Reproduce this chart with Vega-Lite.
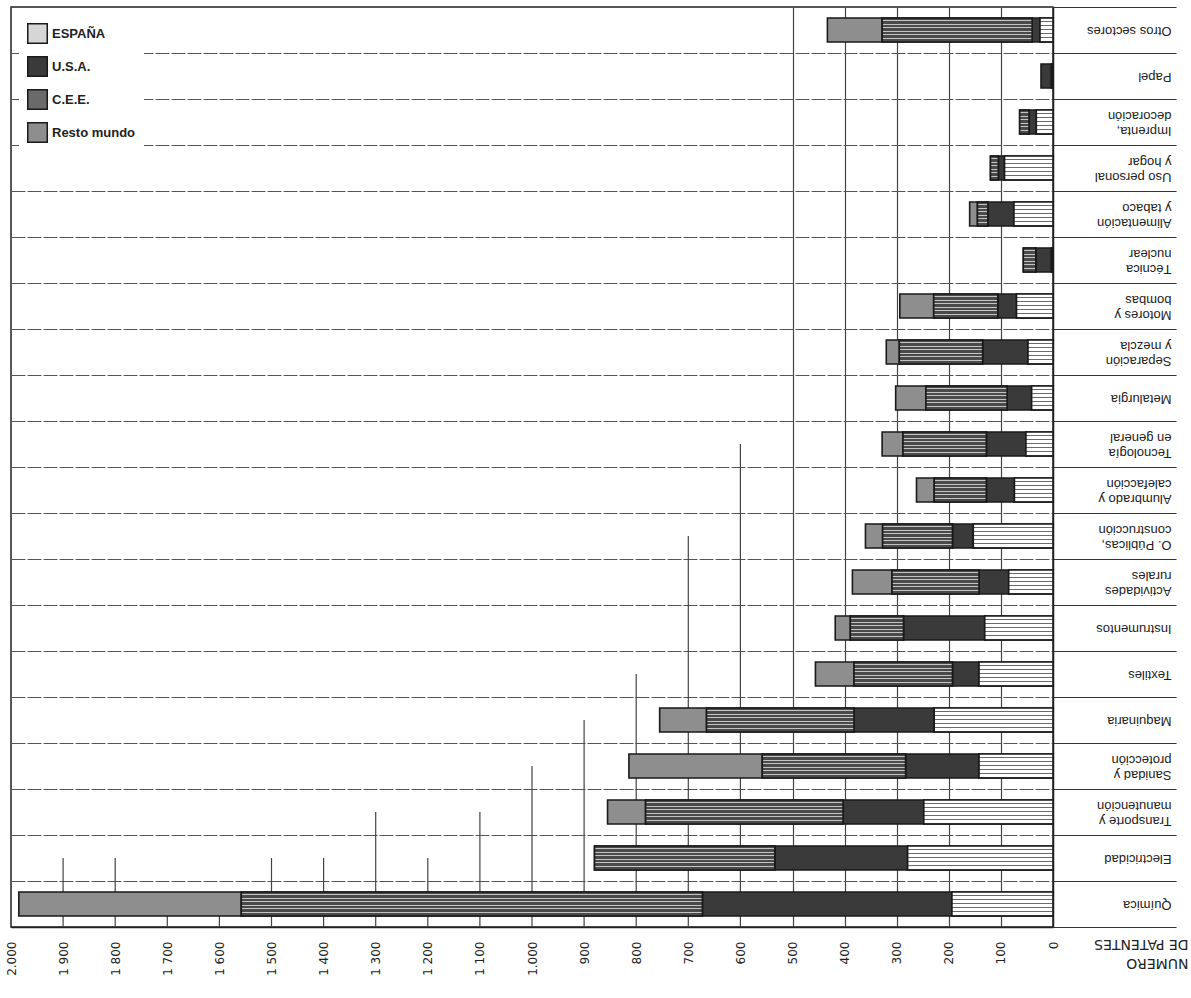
{
  "$schema": "https://vega.github.io/schema/vega-lite/v6.json",
  "width": 1042,
  "height": 920,
  "autosize": {"type": "none"},
  "padding": {"left": 11, "top": 7, "right": 138, "bottom": 71},
  "background": "white",
  "config": {
    "font": "Liberation Sans",
    "view": {"stroke": "#222", "strokeWidth": 1.5},
    "axis": {"labelColor": "#222", "titleColor": "#222", "domainColor": "#222"}
  },
  "datasets": {
    "barras": [
      {"sector": "Química", "origen": "ESPAÑA", "k": 1, "valor": 194},
      {"sector": "Química", "origen": "U.S.A.", "k": 2, "valor": 479},
      {"sector": "Química", "origen": "C.E.E.", "k": 3, "valor": 885},
      {"sector": "Química", "origen": "Resto mundo", "k": 4, "valor": 427},
      {"sector": "Electricidad", "origen": "ESPAÑA", "k": 1, "valor": 279},
      {"sector": "Electricidad", "origen": "U.S.A.", "k": 2, "valor": 255},
      {"sector": "Electricidad", "origen": "C.E.E.", "k": 3, "valor": 346},
      {"sector": "Transporte y|manutención", "origen": "ESPAÑA", "k": 1, "valor": 248},
      {"sector": "Transporte y|manutención", "origen": "U.S.A.", "k": 2, "valor": 155},
      {"sector": "Transporte y|manutención", "origen": "C.E.E.", "k": 3, "valor": 379},
      {"sector": "Transporte y|manutención", "origen": "Resto mundo", "k": 4, "valor": 73},
      {"sector": "Sanidad y|protección", "origen": "ESPAÑA", "k": 1, "valor": 142},
      {"sector": "Sanidad y|protección", "origen": "U.S.A.", "k": 2, "valor": 141},
      {"sector": "Sanidad y|protección", "origen": "C.E.E.", "k": 3, "valor": 275},
      {"sector": "Sanidad y|protección", "origen": "Resto mundo", "k": 4, "valor": 256},
      {"sector": "Maquinaria", "origen": "ESPAÑA", "k": 1, "valor": 228},
      {"sector": "Maquinaria", "origen": "U.S.A.", "k": 2, "valor": 154},
      {"sector": "Maquinaria", "origen": "C.E.E.", "k": 3, "valor": 283},
      {"sector": "Maquinaria", "origen": "Resto mundo", "k": 4, "valor": 90},
      {"sector": "Textiles", "origen": "ESPAÑA", "k": 1, "valor": 142},
      {"sector": "Textiles", "origen": "U.S.A.", "k": 2, "valor": 51},
      {"sector": "Textiles", "origen": "C.E.E.", "k": 3, "valor": 189},
      {"sector": "Textiles", "origen": "Resto mundo", "k": 4, "valor": 74},
      {"sector": "Instrumentos", "origen": "ESPAÑA", "k": 1, "valor": 131},
      {"sector": "Instrumentos", "origen": "U.S.A.", "k": 2, "valor": 156},
      {"sector": "Instrumentos", "origen": "C.E.E.", "k": 3, "valor": 102},
      {"sector": "Instrumentos", "origen": "Resto mundo", "k": 4, "valor": 29},
      {"sector": "Actividades|rurales", "origen": "ESPAÑA", "k": 1, "valor": 85},
      {"sector": "Actividades|rurales", "origen": "U.S.A.", "k": 2, "valor": 57},
      {"sector": "Actividades|rurales", "origen": "C.E.E.", "k": 3, "valor": 167},
      {"sector": "Actividades|rurales", "origen": "Resto mundo", "k": 4, "valor": 76},
      {"sector": "O. Públicas,|construcción", "origen": "ESPAÑA", "k": 1, "valor": 153},
      {"sector": "O. Públicas,|construcción", "origen": "U.S.A.", "k": 2, "valor": 40},
      {"sector": "O. Públicas,|construcción", "origen": "C.E.E.", "k": 3, "valor": 134},
      {"sector": "O. Públicas,|construcción", "origen": "Resto mundo", "k": 4, "valor": 33},
      {"sector": "Alumbrado y|calefacción", "origen": "ESPAÑA", "k": 1, "valor": 74},
      {"sector": "Alumbrado y|calefacción", "origen": "U.S.A.", "k": 2, "valor": 54},
      {"sector": "Alumbrado y|calefacción", "origen": "C.E.E.", "k": 3, "valor": 100},
      {"sector": "Alumbrado y|calefacción", "origen": "Resto mundo", "k": 4, "valor": 34},
      {"sector": "Tecnología|en general", "origen": "ESPAÑA", "k": 1, "valor": 52},
      {"sector": "Tecnología|en general", "origen": "U.S.A.", "k": 2, "valor": 76},
      {"sector": "Tecnología|en general", "origen": "C.E.E.", "k": 3, "valor": 160},
      {"sector": "Tecnología|en general", "origen": "Resto mundo", "k": 4, "valor": 40},
      {"sector": "Metalurgia", "origen": "ESPAÑA", "k": 1, "valor": 41},
      {"sector": "Metalurgia", "origen": "U.S.A.", "k": 2, "valor": 47},
      {"sector": "Metalurgia", "origen": "C.E.E.", "k": 3, "valor": 156},
      {"sector": "Metalurgia", "origen": "Resto mundo", "k": 4, "valor": 58},
      {"sector": "Separación|y mezcla", "origen": "ESPAÑA", "k": 1, "valor": 48},
      {"sector": "Separación|y mezcla", "origen": "U.S.A.", "k": 2, "valor": 87},
      {"sector": "Separación|y mezcla", "origen": "C.E.E.", "k": 3, "valor": 160},
      {"sector": "Separación|y mezcla", "origen": "Resto mundo", "k": 4, "valor": 25},
      {"sector": "Motores y|bombas", "origen": "ESPAÑA", "k": 1, "valor": 70},
      {"sector": "Motores y|bombas", "origen": "U.S.A.", "k": 2, "valor": 36},
      {"sector": "Motores y|bombas", "origen": "C.E.E.", "k": 3, "valor": 123},
      {"sector": "Motores y|bombas", "origen": "Resto mundo", "k": 4, "valor": 65},
      {"sector": "Técnica|nuclear", "origen": "ESPAÑA", "k": 1, "valor": 3},
      {"sector": "Técnica|nuclear", "origen": "U.S.A.", "k": 2, "valor": 30},
      {"sector": "Técnica|nuclear", "origen": "C.E.E.", "k": 3, "valor": 24},
      {"sector": "Alimentación|y tabaco", "origen": "ESPAÑA", "k": 1, "valor": 75},
      {"sector": "Alimentación|y tabaco", "origen": "U.S.A.", "k": 2, "valor": 50},
      {"sector": "Alimentación|y tabaco", "origen": "C.E.E.", "k": 3, "valor": 20},
      {"sector": "Alimentación|y tabaco", "origen": "Resto mundo", "k": 4, "valor": 15},
      {"sector": "Uso personal|y hogar", "origen": "ESPAÑA", "k": 1, "valor": 93},
      {"sector": "Uso personal|y hogar", "origen": "U.S.A.", "k": 2, "valor": 12},
      {"sector": "Uso personal|y hogar", "origen": "C.E.E.", "k": 3, "valor": 15},
      {"sector": "Imprenta,|decoración", "origen": "ESPAÑA", "k": 1, "valor": 32},
      {"sector": "Imprenta,|decoración", "origen": "U.S.A.", "k": 2, "valor": 14},
      {"sector": "Imprenta,|decoración", "origen": "C.E.E.", "k": 3, "valor": 18},
      {"sector": "Papel", "origen": "ESPAÑA", "k": 1, "valor": 3},
      {"sector": "Papel", "origen": "U.S.A.", "k": 2, "valor": 20},
      {"sector": "Otros sectores", "origen": "ESPAÑA", "k": 1, "valor": 25},
      {"sector": "Otros sectores", "origen": "U.S.A.", "k": 2, "valor": 15},
      {"sector": "Otros sectores", "origen": "C.E.E.", "k": 3, "valor": 288},
      {"sector": "Otros sectores", "origen": "Resto mundo", "k": 4, "valor": 105}
    ],
    "guias": [
      {"v": 600, "abajo": "Química", "arriba": "Tecnología|en general"},
      {"v": 700, "abajo": "Química", "arriba": "O. Públicas,|construcción"},
      {"v": 800, "abajo": "Química", "arriba": "Textiles"},
      {"v": 900, "abajo": "Química", "arriba": "Maquinaria"},
      {"v": 1000, "abajo": "Química", "arriba": "Sanidad y|protección"},
      {"v": 1100, "abajo": "Química", "arriba": "Transporte y|manutención"},
      {"v": 1200, "abajo": "Química", "arriba": "Electricidad"},
      {"v": 1300, "abajo": "Química", "arriba": "Transporte y|manutención"},
      {"v": 1400, "abajo": "Química", "arriba": "Electricidad"},
      {"v": 1500, "abajo": "Química", "arriba": "Electricidad"},
      {"v": 1600, "abajo": "Química", "arriba": "Química"},
      {"v": 1700, "abajo": "Química", "arriba": "Química"},
      {"v": 1800, "abajo": "Química", "arriba": "Electricidad"},
      {"v": 1900, "abajo": "Química", "arriba": "Electricidad"}
    ]
  },
  "layer": [
    {
      "data": {"name": "guias"},
      "mark": {"type": "rule", "color": "#444", "strokeWidth": 1.2},
      "encoding": {
        "x": {
          "field": "v", "type": "quantitative",
          "scale": {"domain": [0, 2000], "reverse": true, "nice": false, "zero": true},
          "axis": {
            "orient": "bottom",
            "values": [0, 100, 200, 300, 400, 500, 600, 700, 800, 900, 1000, 1100, 1200, 1300, 1400, 1500, 1600, 1700, 1800, 1900, 2000],
            "labelExpr": "datum.value == 2000 ? '2.000' : datum.value == 1000 ? '1.000' : datum.value > 1000 ? '1 ' + format(datum.value - 1000, '03d') : datum.label",
            "labelAngle": -90,
            "labelAlign": "right",
            "labelBaseline": "middle",
            "labelFont": "DejaVu Sans",
            "labelFontSize": 12,
            "labelPadding": 14,
            "ticks": false,
            "tickSize": 0,
            "domain": true,
            "domainWidth": 1.5,
            "grid": true,
            "gridColor": "#444",
            "gridWidth": 1.2,
            "gridOpacity": {"expr": "datum.value > 0 && datum.value <= 500 ? 1 : 0"},
            "title": ["NUMERO", "DE PATENTES"],
            "titleAngle": 180,
            "titleAlign": "left",
            "titleBaseline": "middle",
            "titleFont": "DejaVu Sans",
            "titleFontSize": 14,
            "titleFontWeight": "normal",
            "titleLineHeight": 19,
            "titleX": 1177,
            "titleY": 35
          }
        },
        "y": {
          "field": "abajo", "type": "nominal", "bandPosition": 1,
          "scale": {
            "domain": ["Otros sectores", "Papel", "Imprenta,|decoración", "Uso personal|y hogar", "Alimentación|y tabaco", "Técnica|nuclear", "Motores y|bombas", "Separación|y mezcla", "Metalurgia", "Tecnología|en general", "Alumbrado y|calefacción", "O. Públicas,|construcción", "Actividades|rurales", "Instrumentos", "Textiles", "Maquinaria", "Sanidad y|protección", "Transporte y|manutención", "Electricidad", "Química"],
            "paddingInner": 0, "paddingOuter": 0
          },
          "axis": {
            "orient": "right",
            "title": null,
            "tickBand": "extent",
            "tickSize": 123,
            "tickColor": "#333",
            "tickWidth": 1.2,
            "grid": true,
            "gridColor": "#555",
            "gridWidth": 1.2,
            "gridDash": [14, 2],
            "domainWidth": 1.5,
            "labelAngle": 180,
            "labelAlign": "left",
            "labelBaseline": "middle",
            "labelPadding": -5,
            "labelOffset": {"expr": "indexof(datum.label, '|') >= 0 ? 8 : 0"},
            "labelFontSize": 13,
            "labelLineHeight": 15,
            "labelLimit": 0,
            "labelExpr": "split(datum.label, '|')"
          }
        },
        "y2": {"field": "arriba"}
      }
    },
    {
      "data": {"name": "barras"},
      "transform": [
        {"stack": "valor", "groupby": ["sector"], "sort": [{"field": "k", "order": "ascending"}], "as": ["x0", "x1"]}
      ],
      "encoding": {
        "x": {"field": "x0", "type": "quantitative", "scale": {"domain": [0, 2000], "reverse": true, "nice": false}},
        "x2": {"field": "x1"},
        "y": {
          "field": "sector", "type": "nominal",
          "scale": {
            "domain": ["Otros sectores", "Papel", "Imprenta,|decoración", "Uso personal|y hogar", "Alimentación|y tabaco", "Técnica|nuclear", "Motores y|bombas", "Separación|y mezcla", "Metalurgia", "Tecnología|en general", "Alumbrado y|calefacción", "O. Públicas,|construcción", "Actividades|rurales", "Instrumentos", "Textiles", "Maquinaria", "Sanidad y|protección", "Transporte y|manutención", "Electricidad", "Química"],
            "paddingInner": 0, "paddingOuter": 0
          }
        }
      },
      "layer": [
        {
          "mark": {"type": "bar", "height": {"band": 0.52}, "stroke": "#1a1a1a", "strokeWidth": 1.6},
          "encoding": {
            "fill": {
              "field": "origen", "type": "nominal",
              "scale": {"domain": ["ESPAÑA", "U.S.A.", "C.E.E.", "Resto mundo"], "range": ["#d6d6d6", "#3a3a3a", "#6a6a6a", "#8e8e8e"]},
              "legend": {
                "orient": "top-left",
                "title": null,
                "symbolType": "square",
                "symbolSize": 380,
                "symbolStrokeColor": "#1a1a1a",
                "symbolStrokeWidth": 1.5,
                "labelFontSize": 13,
                "labelFontWeight": "bold",
                "labelColor": "#222",
                "rowPadding": 6,
                "fillColor": "white",
                "padding": 8,
                "offset": 8
              }
            }
          }
        },
        {
          "transform": [{"filter": "datum.origen === 'ESPAÑA'"}],
          "mark": {
            "type": "bar", "height": {"band": 0.52}, "stroke": "#1a1a1a", "strokeWidth": 1.6,
            "fill": {"gradient": "linear", "x1": 0, "y1": 0, "x2": 0, "y2": 1, "stops": [
              {"offset": 0, "color": "#ffffff"}, {"offset": 0.1167, "color": "#ffffff"}, {"offset": 0.1167, "color": "#6a6a6a"}, {"offset": 0.1667, "color": "#6a6a6a"},
              {"offset": 0.1667, "color": "#ffffff"}, {"offset": 0.2833, "color": "#ffffff"}, {"offset": 0.2833, "color": "#6a6a6a"}, {"offset": 0.3333, "color": "#6a6a6a"},
              {"offset": 0.3333, "color": "#ffffff"}, {"offset": 0.45, "color": "#ffffff"}, {"offset": 0.45, "color": "#6a6a6a"}, {"offset": 0.5, "color": "#6a6a6a"},
              {"offset": 0.5, "color": "#ffffff"}, {"offset": 0.6167, "color": "#ffffff"}, {"offset": 0.6167, "color": "#6a6a6a"}, {"offset": 0.6667, "color": "#6a6a6a"},
              {"offset": 0.6667, "color": "#ffffff"}, {"offset": 0.7833, "color": "#ffffff"}, {"offset": 0.7833, "color": "#6a6a6a"}, {"offset": 0.8333, "color": "#6a6a6a"},
              {"offset": 0.8333, "color": "#ffffff"}, {"offset": 0.95, "color": "#ffffff"}, {"offset": 0.95, "color": "#6a6a6a"}, {"offset": 1, "color": "#6a6a6a"}
            ]}
          }
        },
        {
          "transform": [{"filter": "datum.origen === 'C.E.E.'"}],
          "mark": {
            "type": "bar", "height": {"band": 0.52}, "stroke": "#1a1a1a", "strokeWidth": 1.6,
            "fill": {"gradient": "linear", "x1": 0, "y1": 0, "x2": 0, "y2": 1, "stops": [
              {"offset": 0, "color": "#4a4a4a"}, {"offset": 0.1, "color": "#4a4a4a"}, {"offset": 0.1, "color": "#c4c4c4"}, {"offset": 0.142857, "color": "#c4c4c4"},
              {"offset": 0.142857, "color": "#4a4a4a"}, {"offset": 0.242857, "color": "#4a4a4a"}, {"offset": 0.242857, "color": "#c4c4c4"}, {"offset": 0.285714, "color": "#c4c4c4"},
              {"offset": 0.285714, "color": "#4a4a4a"}, {"offset": 0.385714, "color": "#4a4a4a"}, {"offset": 0.385714, "color": "#c4c4c4"}, {"offset": 0.428571, "color": "#c4c4c4"},
              {"offset": 0.428571, "color": "#4a4a4a"}, {"offset": 0.528571, "color": "#4a4a4a"}, {"offset": 0.528571, "color": "#c4c4c4"}, {"offset": 0.571429, "color": "#c4c4c4"},
              {"offset": 0.571429, "color": "#4a4a4a"}, {"offset": 0.671429, "color": "#4a4a4a"}, {"offset": 0.671429, "color": "#c4c4c4"}, {"offset": 0.714286, "color": "#c4c4c4"},
              {"offset": 0.714286, "color": "#4a4a4a"}, {"offset": 0.814286, "color": "#4a4a4a"}, {"offset": 0.814286, "color": "#c4c4c4"}, {"offset": 0.857143, "color": "#c4c4c4"},
              {"offset": 0.857143, "color": "#4a4a4a"}, {"offset": 1, "color": "#4a4a4a"}
            ]}
          }
        }
      ]
    }
  ]
}
